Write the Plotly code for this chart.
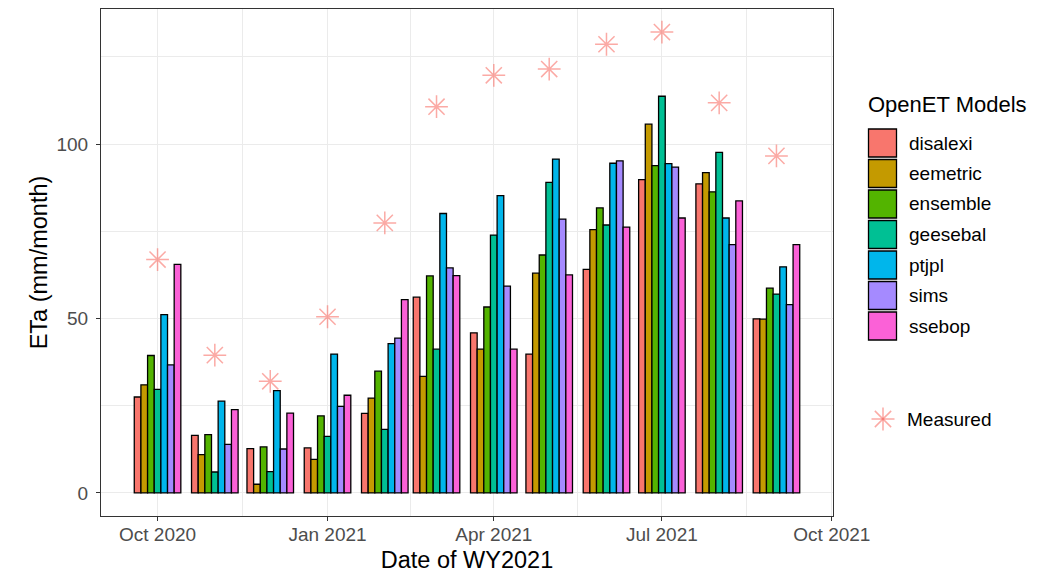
import datetime as _dt
import plotly.graph_objects as go

# ---------------- data ----------------
months = ["2020-10-01", "2020-11-01", "2020-12-01", "2021-01-01", "2021-02-01", "2021-03-01",
          "2021-04-01", "2021-05-01", "2021-06-01", "2021-07-01", "2021-08-01", "2021-09-01"]

disalexi = [27.5, 16.5, 12.7, 12.9, 22.8, 56.1, 45.9, 39.8, 64.1, 89.8, 88.6, 49.9]
eemetric = [31.0, 11.0, 2.5, 9.6, 27.2, 33.4, 41.2, 63.0, 75.5, 105.7, 91.8, 49.8]
ensemble = [39.4, 16.7, 13.2, 22.1, 34.9, 62.2, 53.3, 68.2, 81.7, 93.8, 86.3, 58.7]
geesebal = [29.7, 6.0, 6.1, 16.2, 18.2, 41.2, 73.9, 89.0, 76.8, 113.7, 97.6, 57.0]
ptjpl = [51.1, 26.3, 29.3, 39.8, 42.8, 80.1, 85.2, 95.7, 94.5, 94.4, 78.8, 64.8]
sims = [36.7, 13.9, 12.6, 24.8, 44.4, 64.5, 59.3, 78.5, 95.2, 93.4, 71.2, 54.0]
ssebop = [65.5, 23.9, 22.9, 28.0, 55.4, 62.3, 41.2, 62.5, 76.2, 78.8, 83.7, 71.2]
measured = [66.9, 39.5, 32.0, 50.5, 77.4, 110.7, 119.7, 121.5, 128.6, 132.1, 111.8, 96.6]

model_names = ["disalexi", "eemetric", "ensemble", "geesebal", "ptjpl", "sims", "ssebop"]
model_values = [disalexi, eemetric, ensemble, geesebal, ptjpl, sims, ssebop]
model_colors = ["#F8766D", "#C49A00", "#53B400", "#00C094", "#00B6EB", "#A58AFF", "#FB61D7"]
measured_color = "rgba(248,118,109,0.62)"

x_tickvals = ["2020-10-01", "2021-01-01", "2021-04-01", "2021-07-01", "2021-10-01"]
x_ticktext = ["Oct 2020", "Jan 2021", "Apr 2021", "Jul 2021", "Oct 2021"]
x_minorvals = ["2020-11-16", "2021-02-15", "2021-05-16 12:00", "2021-08-16"]

# ---------------- geometry ----------------
DAY_MS = 86400000
group_days = 0.9 * 28
bar_days = group_days / len(model_names)
FONT = "Liberation Sans, Arial, sans-serif"

PAGE_OFF = 8  # default body margin of the html page
W_FIG, H_FIG = 1048 - PAGE_OFF, 573 - PAGE_OFF
ML, MT = 101 - PAGE_OFF, 9 - PAGE_OFF
MR = W_FIG - (833 - PAGE_OFF)
MB = H_FIG - (516 - PAGE_OFF)
PW = W_FIG - ML - MR
PH = H_FIG - MT - MB


def px_x(px):
    return (px - PAGE_OFF - ML) / PW


def px_y(py):
    return (H_FIG - MB - (py - PAGE_OFF)) / PH


fig = go.Figure()

for i, (name, vals, col) in enumerate(zip(model_names, model_values, model_colors)):
    fig.add_trace(go.Bar(
        x=months, y=vals, name=name,
        width=bar_days * DAY_MS,
        offset=(-group_days / 2 + i * bar_days) * DAY_MS,
        marker=dict(color=col, line=dict(color="black", width=1.3)),
        showlegend=False,
    ))

fig.add_trace(go.Scatter(
    x=months, y=measured, mode="markers", name="Measured",
    marker=dict(symbol="asterisk-open", size=19, color=measured_color,
                line=dict(color=measured_color, width=1.5)),
    showlegend=False,
))

# ---------------- manual legend (ggplot style keys) ----------------
shapes = []
annotations = []
annotations.append(dict(x=px_x(866), y=px_y(105), xref="paper", yref="paper",
                        text="OpenET Models", showarrow=False, xanchor="left", yanchor="middle",
                        font=dict(family=FONT, size=22, color="black")))
key_top0, key_step, key_size = 129, 30.5, 28
for k, (name, col) in enumerate(zip(model_names, model_colors)):
    top = key_top0 + k * key_step
    shapes.append(dict(type="rect", xref="paper", yref="paper",
                       x0=px_x(868.5), x1=px_x(868.5 + key_size),
                       y0=px_y(top), y1=px_y(top + key_size),
                       fillcolor=col, line=dict(color="black", width=1.3)))
    annotations.append(dict(x=px_x(907), y=px_y(top + key_size / 2), xref="paper", yref="paper",
                            text=name, showarrow=False, xanchor="left", yanchor="middle",
                            font=dict(family=FONT, size=19, color="black")))

cx, cy, r = 883, 419, 11.5
d = r * 0.7071
for (dx, dy) in [(0, r), (r, 0), (d, d), (d, -d)]:
    shapes.append(dict(type="line", xref="paper", yref="paper",
                       x0=px_x(cx - dx), x1=px_x(cx + dx), y0=px_y(cy - dy), y1=px_y(cy + dy),
                       line=dict(color=measured_color, width=1.5)))
annotations.append(dict(x=px_x(905), y=px_y(419), xref="paper", yref="paper",
                        text="Measured", showarrow=False, xanchor="left", yanchor="middle",
                        font=dict(family=FONT, size=19, color="black")))

start = _dt.datetime(2020, 10, 1) - _dt.timedelta(days=group_days / 2)
end = _dt.datetime(2021, 9, 1) + _dt.timedelta(days=group_days / 2)
span = end - start
x_range = [(start - span * 0.05).strftime("%Y-%m-%d %H:%M"), (end + span * 0.05).strftime("%Y-%m-%d %H:%M")]
y_max = max(measured)
y_range = [-0.05 * y_max, y_max * 1.05]

fig.update_layout(
    width=W_FIG, height=H_FIG,
    margin=dict(l=ML, r=MR, t=MT, b=MB, pad=0),
    paper_bgcolor="white", plot_bgcolor="white",
    barmode="overlay",
    font=dict(family=FONT, color="#4D4D4D"),
    shapes=shapes, annotations=annotations,
    xaxis=dict(
        type="date", range=x_range,
        tickmode="array", tickvals=x_tickvals, ticktext=x_ticktext,
        tickfont=dict(family=FONT, size=19, color="#4D4D4D"),
        ticks="outside", ticklen=4, tickcolor="#333333", tickwidth=1.1,
        ticklabelstandoff=-3,
        showgrid=True, gridcolor="#EBEBEB", gridwidth=1.2,
        minor=dict(tickmode="array", tickvals=x_minorvals, showgrid=True,
                   gridcolor="#EBEBEB", gridwidth=0.7, ticks=""),
        showline=True, linecolor="#333333", linewidth=1.1, mirror=True,
        zeroline=False,
        title=dict(text="Date of WY2021", font=dict(family=FONT, size=23.5, color="black"), standoff=11),
    ),
    yaxis=dict(
        range=y_range,
        tickmode="array", tickvals=[0, 50, 100], ticktext=["0", "50", "100"],
        tickfont=dict(family=FONT, size=19, color="#4D4D4D"),
        ticks="outside", ticklen=4, tickcolor="#333333", tickwidth=1.1,
        ticklabelstandoff=4,
        showgrid=True, gridcolor="#EBEBEB", gridwidth=1.2,
        minor=dict(tickmode="array", tickvals=[25, 75, 125], showgrid=True,
                   gridcolor="#EBEBEB", gridwidth=0.7, ticks=""),
        showline=True, linecolor="#333333", linewidth=1.1, mirror=True,
        zeroline=False,
        title=dict(text="ETa (mm/month)", font=dict(family=FONT, size=23.5, color="black"), standoff=2),
    ),
)

fig.write_html("out.html")
